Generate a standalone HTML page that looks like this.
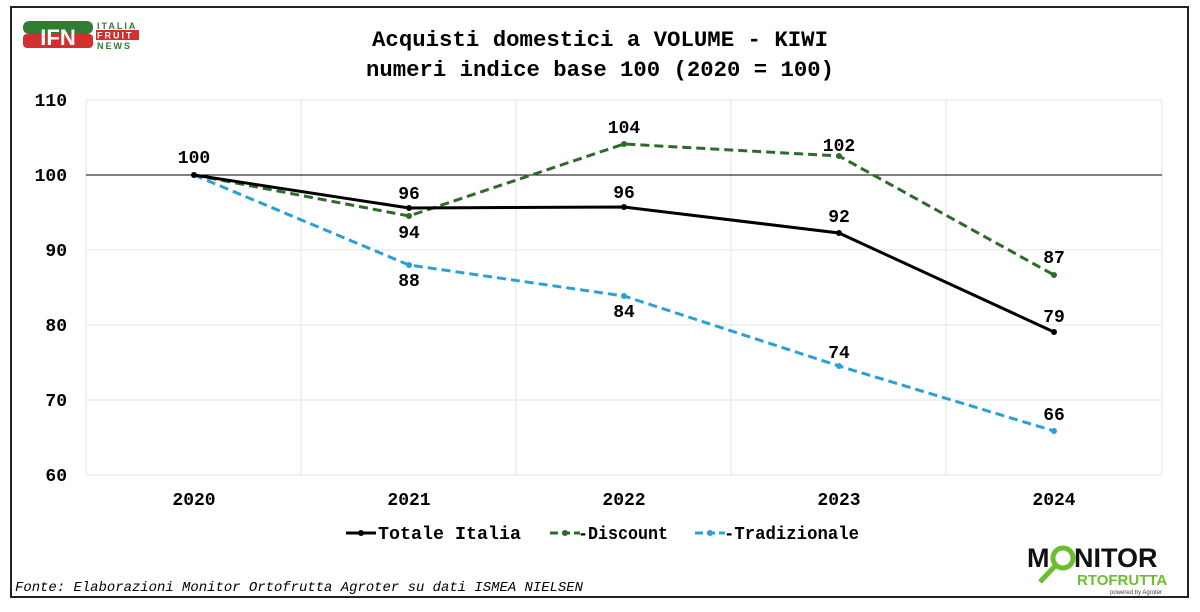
<!DOCTYPE html>
<html><head><meta charset="utf-8"><style>
body{margin:0;background:#fff;width:1200px;height:607px;overflow:hidden}
svg text{font-family:"Liberation Mono",monospace;font-weight:bold;fill:#000}
</style></head><body>
<svg width="1200" height="607" viewBox="0 0 1200 607">
<rect x="11" y="7" width="1177" height="590" fill="#fff" stroke="#222" stroke-width="2"/>
<!-- IFN logo -->
<rect x="23" y="21" width="70" height="13" rx="6" fill="#2e7d32"/>
<rect x="23" y="34" width="70" height="14" rx="4" fill="#d32f2f"/>
<text x="58" y="45" font-size="22" text-anchor="middle" style="fill:#fff;font-family:'Liberation Sans',sans-serif;font-weight:900">IFN</text>
<text x="97" y="29" font-size="9" style="fill:#2e7d32;font-family:'Liberation Sans',sans-serif;letter-spacing:2px">ITALIA</text>
<rect x="96" y="30" width="43" height="10" fill="#d32f2f"/>
<text x="97" y="38.5" font-size="9" style="fill:#fff;font-family:'Liberation Sans',sans-serif;letter-spacing:2px">FRUIT</text>
<text x="97" y="49" font-size="9" style="fill:#2e7d32;font-family:'Liberation Sans',sans-serif;letter-spacing:2px">NEWS</text>
<!-- title -->
<text x="372" y="46" font-size="22" textLength="456" lengthAdjust="spacingAndGlyphs">Acquisti domestici a VOLUME - KIWI</text>
<text x="366" y="76" font-size="22" textLength="468" lengthAdjust="spacingAndGlyphs">numeri indice base 100 (2020 = 100)</text>
<!-- grid -->
<g stroke="#e3e3e3" stroke-width="1">
<line x1="86" y1="100" x2="1162" y2="100"/><line x1="86" y1="250" x2="1162" y2="250"/>
<line x1="86" y1="325" x2="1162" y2="325"/><line x1="86" y1="400" x2="1162" y2="400"/>
<line x1="86" y1="475" x2="1162" y2="475"/>
<line x1="86" y1="100" x2="86" y2="475"/><line x1="301" y1="100" x2="301" y2="475"/>
<line x1="516" y1="100" x2="516" y2="475"/><line x1="731" y1="100" x2="731" y2="475"/>
<line x1="946" y1="100" x2="946" y2="475"/><line x1="1162" y1="100" x2="1162" y2="475"/>
</g>
<line x1="86" y1="175" x2="1162" y2="175" stroke="#000" stroke-width="1"/>
<g font-size="18" text-anchor="end">
<text x="67" y="106">110</text><text x="67" y="181">100</text><text x="67" y="256">90</text>
<text x="67" y="331">80</text><text x="67" y="406">70</text><text x="67" y="481">60</text>
</g>
<g font-size="18" text-anchor="middle">
<text x="194" y="505">2020</text><text x="409" y="505">2021</text><text x="624" y="505">2022</text>
<text x="839" y="505">2023</text><text x="1054" y="505">2024</text>
</g>
<!-- series -->
<polyline points="194,175 409,216 624,144 839,156 1054,275" fill="none" stroke="#2e6b2a" stroke-width="3" stroke-dasharray="9,5"/>
<polyline points="194,175 409,265 624,296 839,366 1054,431" fill="none" stroke="#2aa0d6" stroke-width="3" stroke-dasharray="9,5"/>
<polyline points="194,175 409,208 624,207 839,233 1054,332" fill="none" stroke="#000" stroke-width="3"/>
<g fill="#2e6b2a"><circle cx="409" cy="216" r="3"/><circle cx="624" cy="144" r="3"/><circle cx="839" cy="156" r="3"/><circle cx="1054" cy="275" r="3"/></g>
<g fill="#2aa0d6"><circle cx="409" cy="265" r="3"/><circle cx="624" cy="296" r="3"/><circle cx="839" cy="366" r="3"/><circle cx="1054" cy="431" r="3"/></g>
<g fill="#000"><circle cx="194" cy="175" r="3"/><circle cx="409" cy="208" r="3"/><circle cx="624" cy="207" r="3"/><circle cx="839" cy="233" r="3"/><circle cx="1054" cy="332" r="3"/></g>
<g font-size="18" text-anchor="middle">
<text x="194" y="163">100</text>
<text x="409" y="199">96</text><text x="409" y="238">94</text><text x="409" y="286">88</text>
<text x="624" y="133">104</text><text x="624" y="198">96</text><text x="624" y="317">84</text>
<text x="839" y="151">102</text><text x="839" y="222">92</text><text x="839" y="358">74</text>
<text x="1054" y="263">87</text><text x="1054" y="322">79</text><text x="1054" y="420">66</text>
</g>
<!-- legend -->
<line x1="346" y1="533" x2="376" y2="533" stroke="#000" stroke-width="3"/><circle cx="361" cy="533" r="3"/>
<text x="378" y="539" font-size="18" textLength="143" lengthAdjust="spacingAndGlyphs">Totale Italia</text>
<line x1="550" y1="533" x2="580" y2="533" stroke="#2e6b2a" stroke-width="3" stroke-dasharray="8,4"/><circle cx="565" cy="533" r="3" fill="#2e6b2a"/>
<text x="578" y="539" font-size="18" textLength="90" lengthAdjust="spacingAndGlyphs">-Discount</text>
<line x1="695" y1="533" x2="725" y2="533" stroke="#2aa0d6" stroke-width="3" stroke-dasharray="8,4"/><circle cx="710" cy="533" r="3" fill="#2aa0d6"/>
<text x="724" y="539" font-size="18" textLength="135" lengthAdjust="spacingAndGlyphs">-Tradizionale</text>
<text x="15" y="591" font-size="14" textLength="568" lengthAdjust="spacingAndGlyphs" style="font-weight:normal;font-style:italic">Fonte: Elaborazioni Monitor Ortofrutta Agroter su dati ISMEA NIELSEN</text>
<!-- Monitor logo -->
<text x="1027" y="567" font-size="27" style="font-family:'Liberation Sans',sans-serif;font-weight:900;fill:#111">M</text>
<circle cx="1063" cy="558" r="10" fill="none" stroke="#6abf2e" stroke-width="5"/>
<line x1="1055" y1="566" x2="1040" y2="582" stroke="#6abf2e" stroke-width="5"/>
<text x="1074" y="567" font-size="27" style="font-family:'Liberation Sans',sans-serif;font-weight:900;fill:#111">NITOR</text>
<text x="1077" y="585" font-size="15" style="font-family:'Liberation Sans',sans-serif;font-weight:900;fill:#6abf2e">RTOFRUTTA</text>
<text x="1110" y="594" font-size="6" style="font-family:'Liberation Sans',sans-serif;font-weight:normal;fill:#444">powered by Agroter</text>
</svg>
</body></html>
